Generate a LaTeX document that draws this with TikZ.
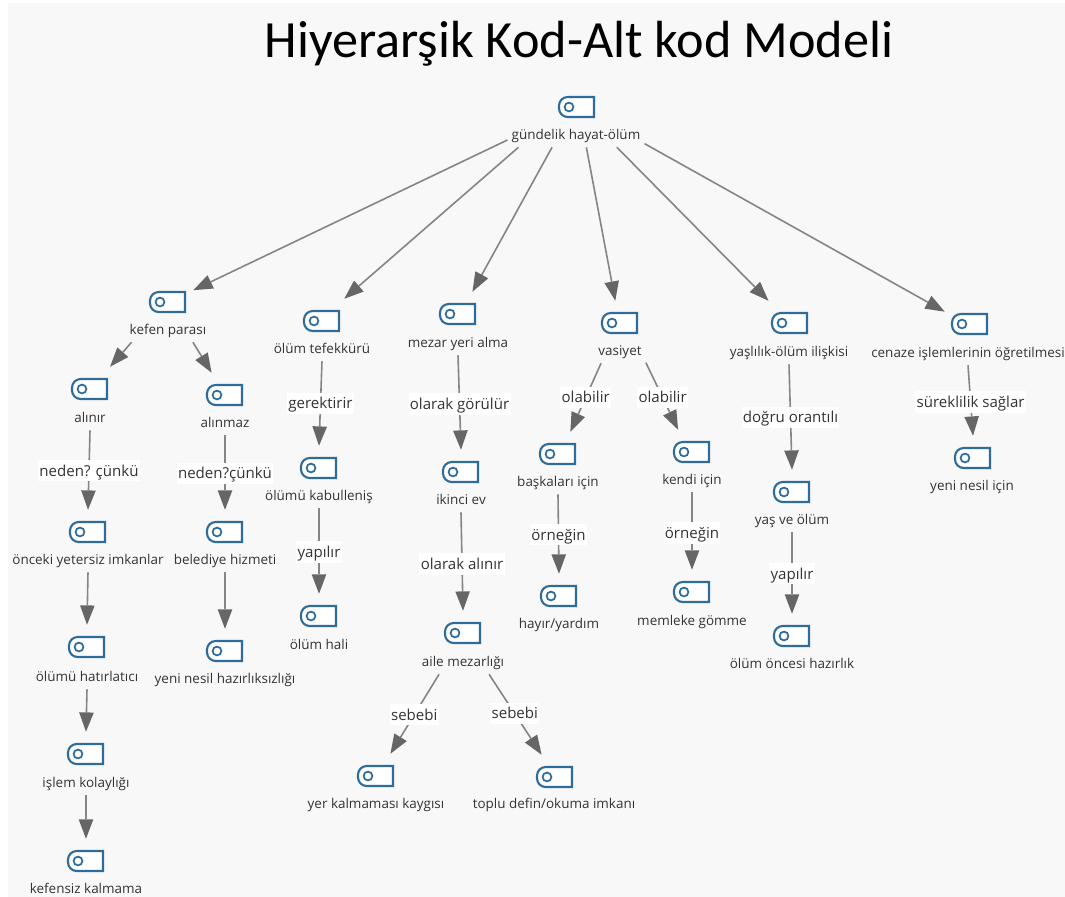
\documentclass[tikz,border=0pt]{standalone}
\usepackage{fontspec}
\setmainfont{Open Sans}
\newfontfamily\titlefont{Carlito}
\usetikzlibrary{arrows.meta}
\definecolor{iconblue}{HTML}{2F6C99}
\definecolor{tipgray}{HTML}{666666}
\definecolor{linegray}{HTML}{858585}
\definecolor{paper}{HTML}{F8F8F8}
\definecolor{ink}{HTML}{333333}
\tikzset{
  iconbox/.style = {minimum width=37.5pt, minimum height=33pt, inner sep=0pt},
  codelabel/.style = {font=\fontsize{10.1}{12}\selectfont, text=ink, text height=10pt, text depth=2.5pt, minimum height=19.5pt, inner ysep=0pt, inner xsep=3pt},
  linklabel/.style = {font=\fontsize{11.3}{13}\selectfont, text=ink, fill=white, text height=10.5pt, text depth=2.7pt, inner ysep=1.4pt, inner xsep=1pt},
  link/.style = {draw=linegray, line width=1.2pt, -{Triangle[length=14.5pt,width=11pt,fill=tipgray,line width=0pt]}},
  codeicon/.pic = {
    \draw[iconblue, line width=1.6pt, fill=white, rounded corners=6.5pt] (17,-10) -- (-18,-10) -- (-18,10) [sharp corners] -- (17,10) -- cycle;
    \draw[iconblue, line width=1.3pt] (-8,0) circle (3.3pt);
  }
}
\newcommand{\codenode}[6]{%
  \node[iconbox] (#1) at (#2,#3) {};
  \pic at (#1) {codeicon};
  \node[codelabel] (#1L) at (#4,#5) {#6};
}
\begin{document}
\begin{tikzpicture}[x=0.75pt, y=-0.75pt]
    \fill[white] (0,0) rectangle (1065,897);
    \fill[paper] (8,3) rectangle (1065,897);
    \useasboundingbox (0,0) rectangle (1065,897);
    \node[font=\titlefont\fontsize{39.2}{44}\selectfont, text=black] (title) at (579,44) {Hiyerarşik Kod-Alt kod Modeli};

    % root and first row
    \codenode{root}{577}{107}{576}{134}{gündelik hayat-ölüm}
    \codenode{kefen}{168}{302}{168}{329}{kefen parası}
    \codenode{tefekkur}{322}{321}{322}{348}{ölüm tefekkürü}
    \codenode{mezar}{458}{314}{458}{342}{mezar yeri alma}
    \codenode{vasiyet}{620}{323}{620}{350}{vasiyet}
    \codenode{yasli}{790}{323}{789}{351}{yaşlılık-ölüm ilişkisi}
    \codenode{cenaze}{970}{324}{968}{352}{cenaze işlemlerinin öğretilmesi}

    % kefen branch
    \codenode{alinir}{90}{389}{90}{417}{alınır}
    \codenode{alinmaz}{225}{395}{225}{422}{alınmaz}
    \codenode{onceki}{88}{532}{88}{559}{önceki yetersiz imkanlar}
    \codenode{belediye}{225}{532}{225}{559}{belediye hizmeti}
    \codenode{hatir}{87}{647}{87}{676}{ölümü hatırlatıcı}
    \codenode{islem}{86}{754}{86}{782}{işlem kolaylığı}
    \codenode{kefensiz}{86}{861}{86}{888}{kefensiz kalmama}
    \codenode{hazirliksiz}{225}{651}{225}{678}{yeni nesil hazırlıksızlığı}

    % other branches
    \codenode{kabul}{319}{468}{319}{495}{ölümü kabulleniş}
    \codenode{hali}{319}{616}{319}{644}{ölüm hali}
    \codenode{ikinci}{461}{472}{461}{499}{ikinci ev}
    \codenode{aile}{463}{633}{463}{661}{aile mezarlığı}
    \codenode{yer}{376}{776}{376}{803}{yer kalmaması kaygısı}
    \codenode{toplu}{555}{777}{554}{803}{toplu defin/okuma imkanı}
    \codenode{baska}{558}{454}{558}{481}{başkaları için}
    \codenode{kendi}{692}{452}{692}{479}{kendi için}
    \codenode{hayir}{559}{596}{559}{623}{hayır/yardım}
    \codenode{memleke}{692}{592}{692}{620}{memleke gömme}
    \codenode{yas}{792}{492}{792}{519}{yaş ve ölüm}
    \codenode{oncesi}{792}{636}{792}{663}{ölüm öncesi hazırlık}
    \codenode{nesil}{973}{458}{972}{485}{yeni nesil için}

    % links
    \draw[link] (rootL.185) -- (kefen.25);
    \draw[link] (rootL.193) -- (tefekkur.45);
    \draw[link] (rootL.209.5) -- (mezar.57);
    \draw[link] (rootL.308) -- (vasiyet.102);
    \draw[link] (rootL.342) -- (yasli.134);
    \draw[link] (rootL.352.6) -- (cenaze.154);

    \draw[link] (kefenL.200) -- (alinir.48);
    \draw[link] (kefenL.332) -- (alinmaz.121);
    \draw[link] (alinirL.south) -- node[linklabel, pos=.51] (l1) {neden? çünkü} (onceki.north);
    \draw[link] (alinmazL.south) -- node[linklabel, pos=.51] (l2) {neden?çünkü} (belediye.north);
    \draw[link] (oncekiL.south) -- (hatir.north);
    \draw[link] (hatirL.south) -- (islem.north);
    \draw[link] (islemL.south) -- (kefensiz.north);
    \draw[link] (belediyeL.south) -- (hazirliksiz.north);

    \draw[link] (tefekkurL.south) -- node[linklabel, pos=.5] (l3) {gerektirir} (kabul.north);
    \draw[link] (kabulL.south) -- node[linklabel, pos=.51] (l4) {yapılır} (hali.north);
    \draw[link] (mezarL.south) -- node[linklabel, pos=.515] (l5) {olarak görülür} (ikinci.north);
    \draw[link] (ikinciL.south) -- node[linklabel, pos=.525] (l6) {olarak alınır} (aile.north);
    \draw[link] (aileL.209) -- node[linklabel, pos=.51] (l7) {sebebi} (yer.57.5);
    \draw[link] (aileL.333) -- node[linklabel, pos=.49] (l8) {sebebi} (toplu.121);

    \draw[link] (vasiyetL.215) -- node[linklabel, pos=.5] (l9) {olabilir} (baska.61);
    \draw[link] (vasiyetL.334) -- node[linklabel, pos=.52] (l10) {olabilir} (kendi.122);
    \draw[link] (baskaL.south) -- node[linklabel, pos=.51] (l11) {örneğin} (hayir.north);
    \draw[link] (kendiL.south) -- node[linklabel, pos=.525] (l12) {örneğin} (memleke.north);
    \draw[link] (yasliL.south) -- node[linklabel, pos=.505] (l13) {doğru orantılı} (yas.north);
    \draw[link] (yasL.south) -- node[linklabel, pos=.51] (l14) {yapılır} (oncesi.north);
    \draw[link] (cenazeL.south) -- node[linklabel, pos=.52] (l15) {süreklilik sağlar} (nesil.north);
\end{tikzpicture}
\end{document}
